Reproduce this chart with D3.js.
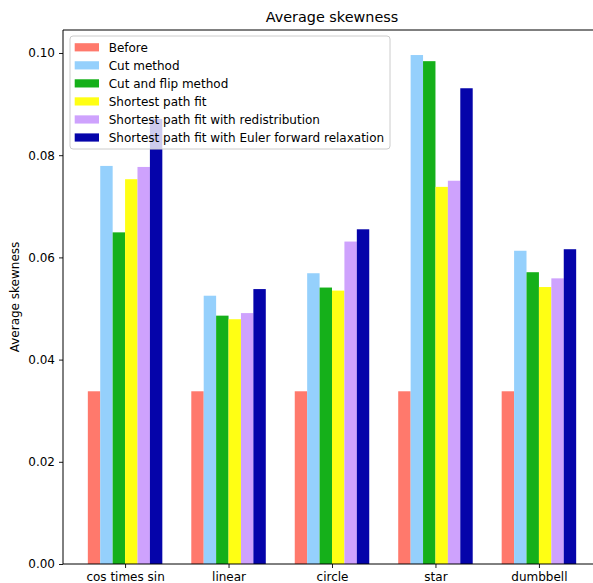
<!DOCTYPE html>
<html>
<head>
<meta charset="utf-8">
<script src="https://cdn.jsdelivr.net/npm/d3@7"></script>
<style>
  html, body { margin: 0; padding: 0; background: #fff; }
  svg { display: block; font-family: "DejaVu Sans", sans-serif; }
</style>
</head>
<body>
<svg id="chart" width="593" height="583"></svg>
<script>
// Shapes tested and the average skewness obtained by each method
const categories = ["cos times sin", "linear", "circle", "star", "dumbbell"];
const seriesNames = [
  "Before",
  "Cut method",
  "Cut and flip method",
  "Shortest path fit",
  "Shortest path fit with redistribution",
  "Shortest path fit with Euler forward relaxation"
];
const seriesColors = ["#ff796c", "#95d0fc", "#15b01a", "#ffff14", "#cea2fd", "#0504aa"];

const before        = [0.0338, 0.0338, 0.0338, 0.0338, 0.0338];
const cutMethod     = [0.0779, 0.0525, 0.0569, 0.0996, 0.0613];
const cutAndFlip    = [0.0649, 0.0486, 0.0541, 0.0984, 0.0571];
const shortestPath  = [0.0753, 0.0479, 0.0535, 0.0738, 0.0542];
const redistributed = [0.0777, 0.0491, 0.0631, 0.0750, 0.0559];
const eulerRelaxed  = [0.0871, 0.0538, 0.0655, 0.0931, 0.0616];
const series = [before, cutMethod, cutAndFlip, shortestPath, redistributed, eulerRelaxed];

const yTicks = [0.00, 0.02, 0.04, 0.06, 0.08, 0.10];

const svg = d3.select("#chart");
const plotLeft = 63, plotRight = 601, plotTop = 30, plotBottom = 564;
const barWidth = 0.12;
const fontSize = 12;

const x = d3.scaleLinear().domain([-0.6, categories.length - 0.4]).range([plotLeft, plotRight]);
const y = d3.scaleLinear().domain([0, 0.1045]).range([plotBottom, plotTop]);

// Bars, one group of six per shape
series.forEach((vals, si) => {
  svg.append("g")
    .selectAll("rect")
    .data(vals)
    .join("rect")
    .attr("x", (d, i) => x(i + (si - 3) * barWidth))
    .attr("width", (d, i) => x(i + (si - 2) * barWidth) - x(i + (si - 3) * barWidth))
    .attr("y", d => y(d))
    .attr("height", d => y(0) - y(d))
    .attr("fill", seriesColors[si]);
});

// Axes
const xAxis = d3.axisBottom(x)
  .tickValues(d3.range(categories.length))
  .tickFormat(i => categories[i])
  .tickSize(4).tickPadding(4);
const gx = svg.append("g").attr("transform", `translate(0,${plotBottom})`).call(xAxis);

const yAxis = d3.axisLeft(y)
  .tickValues(yTicks)
  .tickFormat(d3.format(".2f"))
  .tickSize(4).tickPadding(4);
const gy = svg.append("g").attr("transform", `translate(${plotLeft},0)`).call(yAxis);

[gx, gy].forEach(g => {
  g.select(".domain").remove();
  g.selectAll("line").attr("stroke", "#000").attr("stroke-width", 0.9);
  g.selectAll("text").attr("font-family", "DejaVu Sans").attr("font-size", fontSize).attr("fill", "#000");
});

// Frame (top, left, bottom spines)
svg.append("path")
  .attr("d", `M${plotRight},${plotTop}H${plotLeft}V${plotBottom}H${plotRight}`)
  .attr("fill", "none").attr("stroke", "#000").attr("stroke-width", 1);

// Title and axis label
svg.append("text")
  .attr("x", (plotLeft + plotRight) / 2).attr("y", 22)
  .attr("text-anchor", "middle").attr("font-size", 14.4).attr("fill", "#000")
  .text("Average skewness");

svg.append("text")
  .attr("transform", `translate(19,${(plotTop + plotBottom) / 2}) rotate(-90)`)
  .attr("text-anchor", "middle").attr("font-size", fontSize).attr("fill", "#000")
  .text("Average skewness");

// Legend
const legend = svg.append("g");
legend.append("rect")
  .attr("x", 70).attr("y", 36).attr("width", 320).attr("height", 113)
  .attr("rx", 3).attr("fill", "#fff").attr("fill-opacity", 0.8)
  .attr("stroke", "#cccccc").attr("stroke-width", 1);
seriesNames.forEach((name, i) => {
  const cy = 47.3 + i * 18.04;
  legend.append("rect")
    .attr("x", 74.7).attr("y", cy - 4.1).attr("width", 24.3).attr("height", 8.2)
    .attr("fill", seriesColors[i]);
  legend.append("text")
    .attr("x", 108.7).attr("y", cy + 4.3)
    .attr("font-size", fontSize).attr("fill", "#000")
    .text(name);
});
</script>
</body>
</html>
